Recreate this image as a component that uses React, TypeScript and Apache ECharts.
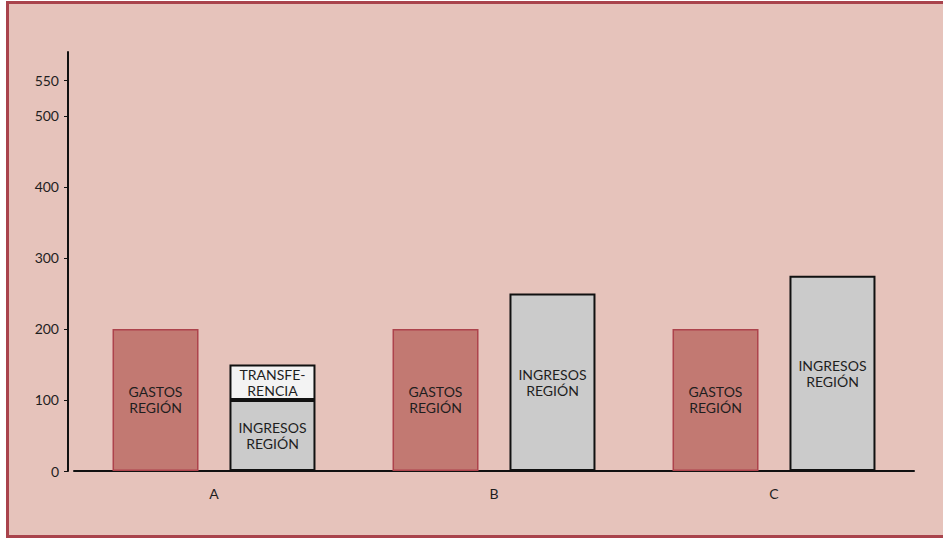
import React, { useEffect, useRef } from "react";
import * as echarts from "echarts";

const categories = ["A", "B", "C"];
const gastos = [200, 200, 200];
const ingresos = [100, 250, 275];
const transferencia = [50, null, null];
const tickValues = [0, 100, 200, 300, 400, 500, 550];

const FONT = "Lato, 'Noto Sans', sans-serif";

export default function App() {
  const ref = useRef<HTMLDivElement>(null);
  useEffect(() => {
    document.body.style.margin = "0";
    document.body.style.overflow = "hidden";
    const chart = echarts.init(ref.current!, null, { renderer: "svg" });
    const labelStyle = {
      show: true,
      position: "inside",
      color: "#1e1e1e",
      fontSize: 14,
      lineHeight: 16,
      fontFamily: FONT,
    };
    chart.setOption({
      animation: false,
      backgroundColor: "transparent",
      grid: { left: 74, right: 29, top: 52, bottom: 68 },
      xAxis: {
        type: "category",
        data: categories,
        axisLine: { lineStyle: { color: "#111", width: 2 } },
        axisTick: { show: false },
        axisLabel: { color: "#1e1e1e", fontSize: 14, margin: 15, fontFamily: FONT },
      },
      yAxis: {
        type: "value",
        min: 0,
        max: 590,
        offset: 6,
        splitLine: { show: false },
        axisLine: { show: true, lineStyle: { color: "#111", width: 2 } },
        axisTick: { show: true, length: 4, customValues: tickValues, lineStyle: { color: "#111", width: 1 } },
        axisLabel: { color: "#1e1e1e", fontSize: 14, margin: 9, fontFamily: FONT, customValues: tickValues },
      },
      series: [
        {
          name: "Gastos región",
          type: "bar",
          stack: "g",
          data: gastos,
          barWidth: 86,
          barGap: "36%",
          itemStyle: { color: "#c27972", borderColor: "#ad434c", borderWidth: 1.5 },
          label: { ...labelStyle, formatter: "GASTOS\nREGIÓN" },
        },
        {
          name: "Ingresos región",
          type: "bar",
          stack: "i",
          data: ingresos,
          barWidth: 86,
          itemStyle: { color: "#cbcbcb", borderColor: "#111", borderWidth: 2 },
          label: { ...labelStyle, formatter: "INGRESOS\nREGIÓN" },
        },
        {
          name: "Transferencia",
          type: "bar",
          stack: "i",
          data: transferencia,
          barWidth: 86,
          itemStyle: { color: "#f3f3f3", borderColor: "#111", borderWidth: 2 },
          label: { ...labelStyle, formatter: "TRANSFE-\nRENCIA" },
        },
      ],
    });
    return () => chart.dispose();
  }, []);
  return (
    <div style={{ position: "relative", width: 943, height: 539, background: "#fff", overflow: "hidden" }}>
      <div
        style={{
          position: "absolute",
          left: 6,
          top: 1,
          width: 980,
          height: 537,
          boxSizing: "border-box",
          borderTop: "3px solid #a9434c",
          borderLeft: "3px solid #a9434c",
          borderBottom: "3px solid #a9434c",
          borderRight: "none",
          background: "#e6c3bb",
        }}
      />
      <div ref={ref} style={{ position: "absolute", left: 0, top: 0, width: 943, height: 539 }} />
    </div>
  );
}
